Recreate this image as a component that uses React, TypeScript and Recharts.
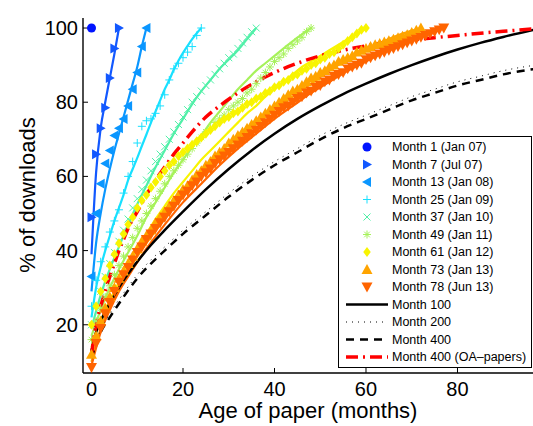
import React from "react";
import { LineChart, Line, XAxis, YAxis } from "recharts";

// x = age of paper (months), y = % of downloads
const X_TICKS = [0, 20, 40, 60, 80];
const Y_TICKS = [20, 40, 60, 80, 100];

// marker series, one value per age 0..n-1
const M1 = [100];
const M7 = [49, 66, 73, 78.5, 86.5, 94.5, 100];
const M13 = [33, 50, 58, 63.5, 67, 71, 73, 75.5, 79, 83.5, 88, 95, 100];
const M25 = [25, 32, 37, 41, 45, 48, 51, 55.5, 60, 64, 69, 73.5, 75, 75.5, 77, 79, 82, 86, 89, 90.5, 92, 93.5, 95, 98, 100];
const M37 = [20, 25, 29, 33, 36.5, 39.5, 42.5, 45.5, 48.5, 51.5, 54, 56.5, 59, 61.5, 64, 66, 68, 70, 72, 74, 76, 78, 80, 81.5, 83, 84.5, 86, 87.5, 89, 90.5, 92, 93, 94.5, 96, 97.5, 99, 100];
const M49 = [16, 21, 24.5, 27.5, 30.5, 33.5, 36, 38.5, 41, 43.5, 46, 48, 50, 52, 54, 56, 58, 60, 61.5, 63, 64.5, 66, 67.5, 69, 70.5, 72, 73, 74.5, 75.5, 76.5, 78, 79, 80, 81, 82.5, 83.5, 85, 86.5, 88, 89.5, 91, 92, 93, 94.5, 95.5, 96.5, 97.5, 99, 100];
const M61 = [20, 25, 29, 32.5, 36, 39, 42, 44.5, 47, 49, 51.5, 53.5, 55, 57, 58.5, 60, 61.5, 63, 64, 65.5, 66.5, 67.5, 68.5, 69.5, 70.5, 71.5, 72.5, 73.5, 74.5, 75.5, 76, 77, 77.5, 78.5, 79.5, 80, 81, 81.5, 82.5, 83, 84, 84.5, 85.5, 86, 87, 87.5, 88.5, 89, 90, 90.5, 91.5, 92, 93, 93.5, 94.5, 95.5, 96.5, 97.5, 98.5, 99.5, 100];
const M73 = [12, 17, 21, 24.5, 27.5, 30, 32.5, 34.5, 36.5, 38.5, 40.5, 42.5, 44, 45.5, 47.5, 49, 50.5, 52, 53.5, 55, 56.5, 57.5, 59, 60.5, 61.5, 63, 64, 65.5, 66.5, 67.5, 69, 70, 71, 72, 73, 74, 75, 76, 77, 78, 79, 80, 81, 82, 83, 83.5, 84.5, 85.5, 86.5, 87, 88, 88.5, 89.5, 90, 91, 91.5, 92, 92.5, 93.5, 94, 94.5, 95, 95.5, 95.8, 96.2, 96.6, 97, 97.4, 97.8, 98.2, 98.8, 99.4, 100];
const M78 = [8.5, 15, 19, 23, 26, 29, 31.5, 33.5, 35.5, 37.5, 39.5, 41, 43, 44.5, 46, 47.5, 49, 50.5, 52, 53.5, 55, 56, 57.5, 58.5, 60, 61, 62, 63.5, 64.5, 65.5, 66.5, 67.5, 68.5, 69.5, 70.5, 71.5, 72.5, 73.5, 74.5, 75.5, 76.5, 77.5, 78.5, 79, 80, 81, 81.5, 82.5, 83, 84, 84.5, 85.5, 86, 87, 87.5, 88, 89, 89.5, 90, 90.5, 91.5, 92, 92.5, 93, 93.5, 94, 94.5, 95, 95.5, 96, 96.5, 97, 97.5, 98, 98.5, 99, 99.5, 100];

// fitted curves
const F7 = [39, 61, 73, 80, 86.5, 93, 100];
const F13 = [29, 42, 50, 56.5, 62, 67, 71.5, 76, 80.5, 85, 89.5, 95, 100];
const F25 = [22, 30, 35.5, 40, 44, 48, 51.5, 55, 59, 62, 65, 68.2, 71.3, 74.5, 77.5, 80.5, 83.5, 86, 88.8, 91.2, 93.3, 95.2, 97, 98.6, 100];
const F37_AGES = [0, 2, 4, 6, 8, 10, 12, 14, 16, 18, 20, 22, 24, 26, 28, 30, 32, 34, 36];
const F37 = [19, 28, 35, 41, 47, 52.5, 57.5, 62.5, 67, 71.5, 75.5, 79.5, 83, 86, 89, 91.5, 94, 97, 100];
const F49_AGES = [0, 2, 4, 6, 8, 10, 12, 14, 16, 18, 20, 22, 24, 26, 28, 30, 32, 34, 36, 38, 40, 42, 44, 46, 48];
const F49 = [17, 24, 30, 35, 39.5, 44, 49, 53, 57, 61, 64.5, 68, 71, 74.5, 77.5, 80.5, 83.5, 86, 88.5, 90.5, 92.5, 94.5, 96.5, 98.3, 100];
const F61_AGES = [0, 1, 2, 3, 4, 5, 6, 8, 10, 12, 14, 16, 18, 20, 22, 24, 26, 28, 30, 32, 34, 36, 38, 40, 42, 44, 46, 48, 50, 52, 54, 56, 58, 60];
const F61 = [14, 18, 21, 24, 26.5, 29, 31.5, 36, 40.5, 44.5, 48.5, 52, 55.5, 58.5, 61.5, 64.5, 67, 69.5, 72, 74.5, 77, 79, 81.5, 83.5, 85.5, 87.5, 89.5, 91, 92.5, 94, 95.5, 97, 98.5, 100];
const F73_AGES = [0, 2, 4, 6, 8, 12, 16, 20, 24, 28, 32, 36, 40, 44, 48, 52, 56, 60, 64, 68, 72];
const F73 = [10, 19, 25, 30, 34.5, 42, 48.5, 54.5, 60, 65, 69.5, 74, 78, 81.5, 85, 88.5, 91.5, 94, 96.5, 98.5, 100];
const F78_AGES = [0, 2, 4, 6, 8, 12, 16, 20, 24, 28, 32, 36, 40, 44, 48, 52, 56, 60, 64, 68, 72, 77];
const F78 = [9, 18, 24, 29, 33, 40.5, 47, 53, 58, 63, 67.5, 71.5, 75.5, 79, 82.5, 85.5, 88.5, 91, 93.5, 95.5, 97.5, 100];

// projected curves
const P100_AGES = [0, 1, 2, 3, 5, 7, 10, 13, 16, 20, 25, 30, 35, 40, 45, 50, 55, 60, 65, 70, 75, 80, 85, 90, 97];
const P100 = [13, 18, 21, 23.5, 28, 32, 37, 41.5, 45.5, 50.5, 56.5, 62, 67, 71.5, 75.5, 79, 82.2, 85, 87.6, 90, 92.2, 94.2, 96, 97.6, 99.6];
const P_AGES = [0, 1, 2, 4, 7, 10, 13, 16, 20, 25, 30, 35, 40, 45, 50, 55, 60, 65, 70, 75, 80, 85, 90, 97];
const P200 = [11.5, 15.5, 18.5, 23, 28.5, 33.5, 37.5, 41, 45.5, 50.5, 55.5, 60, 64, 67.5, 71, 74, 76.5, 79, 81.5, 83.5, 85.5, 87, 88.5, 90];
const P400 = [11, 15, 18, 22, 27.5, 32.5, 36.5, 40, 44.5, 49.5, 54.5, 59, 63, 66.5, 70, 73, 75.5, 78, 80.5, 82.5, 84.5, 86, 87.5, 89];
const OA_AGES = [0, 1, 2, 3, 4, 5, 6, 7, 8, 10, 12, 14, 16, 18, 20, 22, 25, 28, 32, 36, 40, 45, 50, 55, 60, 65, 70, 75, 80, 85, 90, 97];
const OA400 = [12, 20, 25, 29, 33, 36.5, 40, 43, 46, 50.5, 55, 59, 62.5, 66, 69, 72, 76, 79, 82.5, 85.5, 88, 90.5, 92.5, 94, 95.2, 96.2, 96.8, 97.4, 98, 98.6, 99.1, 99.8];

const FONT = '"Liberation Sans", Arial, Helvetica, sans-serif';
const X_DOMAIN: [number, number] = [-1.86, 97.16];
const Y_DOMAIN: [number, number] = [7, 102.7];

const pts = (ys: number[], xs?: number[]) => ys.map((y, i) => ({ x: xs ? xs[i] : i, y }));

type Shape = "circle" | "triR" | "triL" | "triU" | "triD" | "plus" | "cross" | "star" | "diamond";

const SERIES: { label: string; shape: Shape; color: string; size: number; marks: number[]; fit?: number[]; fitAges?: number[] }[] = [
  { label: "Month 1 (Jan 07)", shape: "circle", color: "#0014ff", size: 4.5, marks: M1 },
  { label: "Month 7 (Jul 07)", shape: "triR", color: "#1258ff", size: 5, marks: M7, fit: F7 },
  { label: "Month 13 (Jan 08)", shape: "triL", color: "#0a96ff", size: 5, marks: M13, fit: F13 },
  { label: "Month 25 (Jan 09)", shape: "plus", color: "#18e0ff", size: 4, marks: M25, fit: F25 },
  { label: "Month 37 (Jan 10)", shape: "cross", color: "#50f0a8", size: 3.5, marks: M37, fit: F37, fitAges: F37_AGES },
  { label: "Month 49 (Jan 11)", shape: "star", color: "#a6f25a", size: 4, marks: M49, fit: F49, fitAges: F49_AGES },
  { label: "Month 61 (Jan 12)", shape: "diamond", color: "#f8f400", size: 5, marks: M61, fit: F61, fitAges: F61_AGES },
  { label: "Month 73 (Jan 13)", shape: "triU", color: "#ffa400", size: 5.5, marks: M73, fit: F73, fitAges: F73_AGES },
  { label: "Month 78 (Jun 13)", shape: "triD", color: "#ff6400", size: 5.5, marks: M78, fit: F78, fitAges: F78_AGES },
];

function Marker({ shape, cx, cy, color, size }: { shape: Shape; cx: number; cy: number; color: string; size: number }) {
  if (cx == null || cy == null || isNaN(cx) || isNaN(cy)) return null;
  const s = size;
  switch (shape) {
    case "circle":
      return <circle cx={cx} cy={cy} r={s} fill={color} />;
    case "triR":
      return <polygon points={`${cx + s},${cy} ${cx - s * 0.8},${cy - s} ${cx - s * 0.8},${cy + s}`} fill={color} />;
    case "triL":
      return <polygon points={`${cx - s},${cy} ${cx + s * 0.8},${cy - s} ${cx + s * 0.8},${cy + s}`} fill={color} />;
    case "triU":
      return <polygon points={`${cx},${cy - s} ${cx - s},${cy + s * 0.8} ${cx + s},${cy + s * 0.8}`} fill={color} />;
    case "triD":
      return <polygon points={`${cx},${cy + s} ${cx - s},${cy - s * 0.8} ${cx + s},${cy - s * 0.8}`} fill={color} />;
    case "diamond":
      return <polygon points={`${cx},${cy - s} ${cx + s * 0.75},${cy} ${cx},${cy + s} ${cx - s * 0.75},${cy}`} fill={color} />;
    case "plus":
      return <path d={`M${cx - s},${cy}H${cx + s}M${cx},${cy - s}V${cy + s}`} stroke={color} strokeWidth={1} fill="none" />;
    case "cross":
      return <path d={`M${cx - s},${cy - s}L${cx + s},${cy + s}M${cx - s},${cy + s}L${cx + s},${cy - s}`} stroke={color} strokeWidth={1} fill="none" />;
    case "star": {
      const d = s * 0.7;
      return (
        <path
          d={`M${cx - s},${cy}H${cx + s}M${cx},${cy - s}V${cy + s}M${cx - d},${cy - d}L${cx + d},${cy + d}M${cx - d},${cy + d}L${cx + d},${cy - d}`}
          stroke={color}
          strokeWidth={1}
          fill="none"
        />
      );
    }
  }
  return null;
}

const LEGEND_LINES = [
  { label: "Month 100", color: "#000", width: 2.5, dash: undefined as string | undefined },
  { label: "Month 200", color: "#000", width: 1, dash: "1 5" },
  { label: "Month 400", color: "#000", width: 2.5, dash: "8 6" },
  { label: "Month 400 (OA\u2013papers)", color: "#f00", width: 3.5, dash: "12 5 2 5" },
];

function LegendBox() {
  const top = 147;
  const step = 17.5;
  return (
    <svg width={533} height={426} style={{ position: "absolute", left: 0, top: 0 }}>
      <rect x={338.5} y={136.5} width={193} height={231} fill="#fff" stroke="#000" strokeWidth={1} />
      {SERIES.map((s, i) => (
        <g key={s.label}>
          <Marker shape={s.shape} cx={367} cy={top + i * step} color={s.color} size={s.size} />
          <text x={392} y={top + i * step} dy="0.35em" fontSize={12.5} fontFamily={FONT} fill="#000">
            {s.label}
          </text>
        </g>
      ))}
      {LEGEND_LINES.map((l, j) => {
        const y = top + (SERIES.length + j) * step;
        return (
          <g key={l.label}>
            <line x1={346} x2={388} y1={y} y2={y} stroke={l.color} strokeWidth={l.width} strokeDasharray={l.dash} />
            <text x={392} y={y} dy="0.35em" fontSize={12.5} fontFamily={FONT} fill="#000">
              {l.label}
            </text>
          </g>
        );
      })}
      <text x={308} y={418} textAnchor="middle" fontSize={22} fontFamily={FONT} fill="#000">
        Age of paper (months)
      </text>
      <text
        x={0}
        y={0}
        transform="translate(35 195) rotate(-90)"
        textAnchor="middle"
        fontSize={22}
        fontFamily={FONT}
        fill="#000"
      >
        % of downloads
      </text>
    </svg>
  );
}

export default function App() {
  const tickStyle = { fontSize: 20, fill: "#000", fontFamily: FONT };
  return (
    <div
      style={{
        position: "absolute",
        left: 0,
        top: 0,
        width: 533,
        height: 426,
        overflow: "hidden",
        background: "#fff",
        fontFamily: FONT,
      }}
    >
      <LineChart width={536} height={426} margin={{ top: 18, right: 0, bottom: 23, left: 23 }}>
        <XAxis
          dataKey="x"
          type="number"
          domain={X_DOMAIN}
          allowDataOverflow
          ticks={X_TICKS}
          interval={0}
          height={30}
          tickSize={-5}
          tickMargin={14}
          tick={tickStyle}
          axisLine={{ stroke: "#000", strokeWidth: 1.4 }}
          tickLine={{ stroke: "#000" }}
        />
        <XAxis
          xAxisId="top"
          orientation="top"
          type="number"
          domain={X_DOMAIN}
          allowDataOverflow
          ticks={X_TICKS}
          interval={0}
          height={0}
          tickSize={-5}
          tick={false}
          axisLine={{ stroke: "#000", strokeWidth: 1.4 }}
          tickLine={{ stroke: "#000" }}
        />
        <YAxis
          type="number"
          domain={Y_DOMAIN}
          allowDataOverflow
          ticks={Y_TICKS}
          interval={0}
          width={60}
          tickSize={-5}
          tickMargin={10}
          tick={tickStyle}
          axisLine={{ stroke: "#000", strokeWidth: 1.4 }}
          tickLine={{ stroke: "#000" }}
        />
        <YAxis
          yAxisId="right"
          orientation="right"
          type="number"
          domain={Y_DOMAIN}
          allowDataOverflow
          ticks={Y_TICKS}
          interval={0}
          width={0}
          tickSize={-5}
          tick={false}
          axisLine={{ stroke: "#000", strokeWidth: 1.4 }}
          tickLine={{ stroke: "#000" }}
        />

        {SERIES.map((s) => [
          <Line
            key={s.label + "-m"}
            data={pts(s.marks)}
            dataKey="y"
            stroke="none"
            isAnimationActive={false}
            activeDot={false}
            dot={(p: any) => (
              <Marker key={`${s.label}-${p.index}`} shape={s.shape} cx={p.cx} cy={p.cy} color={s.color} size={s.size} />
            )}
          />,
          s.fit ? (
            <Line
              key={s.label + "-f"}
              data={pts(s.fit, s.fitAges)}
              dataKey="y"
              type="monotone"
              stroke={s.color}
              strokeWidth={2.2}
              dot={false}
              activeDot={false}
              isAnimationActive={false}
            />
          ) : null,
        ])}

        <Line data={pts(P100, P100_AGES)} dataKey="y" type="monotone" stroke="#000" strokeWidth={2.5} dot={false} activeDot={false} isAnimationActive={false} />
        <Line data={pts(P200, P_AGES)} dataKey="y" type="monotone" stroke="#000" strokeWidth={1} strokeDasharray="1 5" dot={false} activeDot={false} isAnimationActive={false} />
        <Line data={pts(P400, P_AGES)} dataKey="y" type="monotone" stroke="#000" strokeWidth={2.5} strokeDasharray="8 6" dot={false} activeDot={false} isAnimationActive={false} />
        <Line data={pts(OA400, OA_AGES)} dataKey="y" type="monotone" stroke="#f00" strokeWidth={3.5} strokeDasharray="12 5 2 5" dot={false} activeDot={false} isAnimationActive={false} />
      </LineChart>

      <LegendBox />
    </div>
  );
}
